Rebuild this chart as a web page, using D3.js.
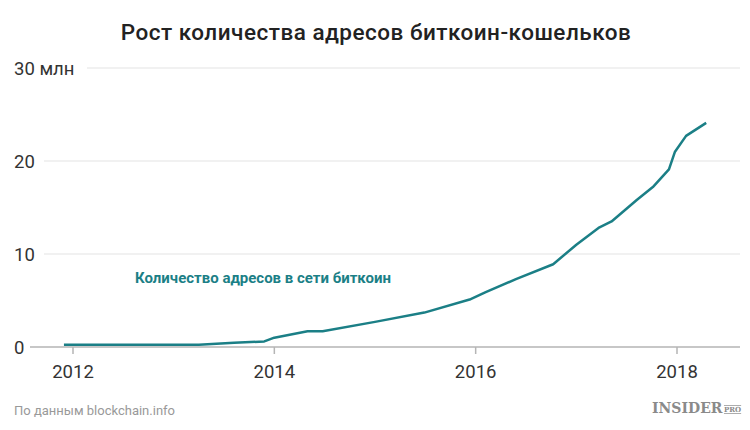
<!DOCTYPE html>
<html><head><meta charset="utf-8">
<script src="https://cdn.jsdelivr.net/npm/d3@7"></script>
<style>body{margin:0;background:#fff}svg{display:block;font-family:Roboto,sans-serif}</style>
</head><body><svg id="c" width="750" height="430"></svg>
<script>
const years = [2011.91, 2013.25, 2013.6, 2013.9, 2014.0, 2014.33, 2014.48, 2015.0, 2015.49, 2015.94, 2016.1, 2016.4, 2016.77, 2017.0, 2017.22, 2017.35, 2017.6, 2017.76, 2017.92, 2017.98, 2018.09, 2018.29];
const values = [0.25, 0.25, 0.45, 0.6, 1.0, 1.7, 1.7, 2.7, 3.7, 5.1, 5.9, 7.3, 8.9, 11.0, 12.8, 13.5, 15.8, 17.2, 19.1, 21.0, 22.7, 24.1];
const xTicks = [2012, 2014, 2016, 2018];
const yTicks = [0, 10, 20, 30];
const yTickLabels = ["0", "10", "20", "30 млн"];
const title = "Рост количества адресов биткоин-кошельков";
const seriesLabel = "Количество адресов в сети биткоин";
const source = "По данным blockchain.info";

const svg = d3.select("#c");
const teal = "#1b7f86";
const x = d3.scaleLinear().domain([2012, 2018]).range([73, 677]);
const y = d3.scaleLinear().domain([0, 30]).range([347, 68]);

svg.append("text").attr("x", 376).attr("y", 39.5).attr("text-anchor", "middle")
  .attr("font-size", 22.5).attr("letter-spacing", "0.5px").attr("font-weight", 500).attr("fill", "#222").text(title);

// gridlines
const gridStart = [30, 44, 44, 87];
yTicks.forEach((t, i) => {
  svg.append("line").attr("x1", gridStart[i]).attr("x2", 740)
    .attr("y1", y(t)).attr("y2", y(t))
    .attr("stroke", i === 0 ? "#b5b5b5" : "#e3e3e3").attr("stroke-width", i === 0 ? 1.5 : 1.2);
  svg.append("text").attr("x", 14).attr("y", y(t)).attr("dy", "0.36em")
    .attr("font-size", 18.5).attr("fill", "#333").text(yTickLabels[i]);
});

// x axis ticks
xTicks.forEach(t => {
  svg.append("line").attr("x1", x(t)).attr("x2", x(t)).attr("y1", y(0)).attr("y2", y(0) + 7)
    .attr("stroke", "#b5b5b5").attr("stroke-width", 1.5);
  svg.append("text").attr("x", x(t)).attr("y", 378).attr("text-anchor", "middle")
    .attr("font-size", 18.5).attr("fill", "#333").text(t);
});

const line = d3.line().x((d, i) => x(years[i])).y(d => y(d));
svg.append("path").datum(values).attr("d", line).attr("fill", "none")
  .attr("stroke", teal).attr("stroke-width", 2.5).attr("stroke-linejoin", "round");

svg.append("text").attr("x", 135).attr("y", 283).attr("font-size", 15).attr("font-weight", 700)
  .attr("fill", teal).text(seriesLabel);

svg.append("text").attr("x", 14).attr("y", 415).attr("font-size", 13).attr("fill", "#999").text(source);

const logo = svg.append("text").attr("x", 652).attr("y", 413).attr("font-family", "'DejaVu Serif', 'Liberation Serif', serif")
  .attr("fill", "#8a8a8a").attr("font-weight", 700);
logo.append("tspan").attr("font-size", 14).text("INSIDER");
logo.append("tspan").attr("font-size", 7).attr("dx", 1.5).attr("dy", -1).attr("text-decoration", "overline underline").text("PRO");
</script></body></html>
